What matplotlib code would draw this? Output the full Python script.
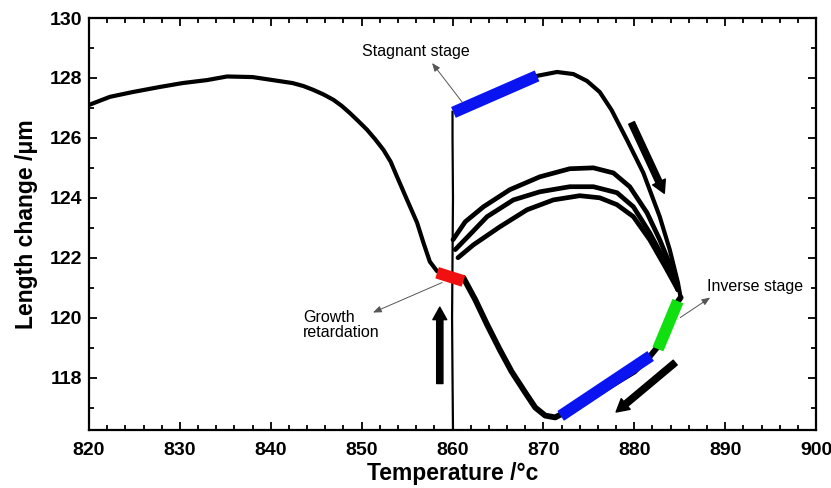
import matplotlib
matplotlib.use("Agg")
import matplotlib.pyplot as plt
from matplotlib.ticker import MultipleLocator

plt.rcParams['font.family'] = ['Liberation Sans', 'DejaVu Sans']

# --- data (Temperature /°C, Length change /µm) ---
heat_T = [820.0, 822.3, 824.8, 827.8, 830.3, 833.0, 835.2, 838.0, 840.2, 842.4,
          843.6, 844.7, 845.8, 846.9, 847.8, 848.7, 849.6, 850.6, 851.5, 852.4,
          853.2, 853.9, 855.0, 856.1, 856.8, 857.5, 858.3]
heat_L = [127.1, 127.37, 127.53, 127.7, 127.83, 127.93, 128.05, 128.03, 127.93, 127.83,
          127.73, 127.6, 127.45, 127.27, 127.07, 126.83, 126.57, 126.27, 125.95, 125.6,
          125.2, 124.7, 123.93, 123.17, 122.5, 121.87, 121.55]

vert_T = [860.05, 860.0, 859.95, 860.0, 860.05, 860.0, 860.0]
vert_L = [116.27, 118.0, 120.0, 122.0, 124.0, 126.0, 126.87]

# cooling branch: down the left side, through the minimum, up to the inverse stage
loop_T = [861.2, 862.5, 863.8, 865.2, 866.5, 868.0, 869.1, 870.2, 871.3,
          874.0, 877.0, 880.0, 881.7, 882.5, 883.6, 884.7, 885.1]
loop_L = [121.33, 120.6, 119.77, 118.93, 118.2, 117.5, 117.0, 116.73, 116.67,
          117.1, 117.65, 118.2, 118.7, 119.0, 119.7, 120.5, 120.67]

# upper branch after the stagnant stage
outer_T = [869.3, 871.5, 873.3, 874.8, 876.2, 877.5, 879.2, 881.0, 882.8, 883.9, 884.8, 885.1]
outer_L = [128.07, 128.2, 128.13, 127.9, 127.53, 126.93, 125.93, 124.83, 123.37, 122.27, 121.17, 120.67]

arch1_T = [860.05, 861.4, 863.4, 866.3, 869.6, 872.9, 875.5, 877.7, 879.5, 881.4, 882.8, 884.3, 884.8]
arch1_L = [122.6, 123.2, 123.7, 124.27, 124.7, 124.97, 125.0, 124.83, 124.37, 123.5, 122.6, 121.5, 120.93]
arch2_T = [860.3, 861.9, 863.8, 866.7, 869.6, 872.9, 875.5, 878.1, 879.9, 881.7, 883.4, 884.8]
arch2_L = [122.27, 122.77, 123.37, 123.93, 124.2, 124.37, 124.37, 124.17, 123.7, 122.83, 121.87, 120.93]
arch3_T = [860.6, 862.3, 865.2, 868.2, 871.1, 874.0, 876.2, 878.1, 879.9, 881.7, 883.4, 884.8]
arch3_L = [122.0, 122.43, 123.03, 123.6, 123.93, 124.07, 124.0, 123.77, 123.37, 122.6, 121.7, 120.93]

# highlighted stages
stagnant_T, stagnant_L = [860.1, 869.3], [126.85, 128.07]
retard_T, retard_L = [858.3, 861.2], [121.5, 121.22]
inverse_T, inverse_L = [884.8, 882.6], [120.55, 118.95]
lower_T, lower_L = [881.8, 871.9], [118.72, 116.72]

fig = plt.figure(figsize=(8.31, 4.88), dpi=100)
ax = fig.add_axes([0.1071, 0.1189, 0.8749, 0.8441])

# thin vertical jump at 860 °C
ax.plot(vert_T, vert_L, color='black', lw=1.6)
for T, L, w in [(heat_T, heat_L, 3.0), (loop_T, loop_L, 4.2), (outer_T, outer_L, 3.0),
                (arch1_T, arch1_L, 3.4), (arch2_T, arch2_L, 3.4), (arch3_T, arch3_L, 3.4)]:
    ax.plot(T, L, color='black', lw=w, solid_capstyle='round', solid_joinstyle='round')

ax.plot(stagnant_T, stagnant_L, color='#0a14f0', lw=8.5, solid_capstyle='butt')
ax.plot(lower_T, lower_L, color='#0a14f0', lw=8.5, solid_capstyle='butt')
ax.plot(retard_T, retard_L, color='#f01010', lw=8.5, solid_capstyle='butt')
ax.plot(inverse_T, inverse_L, color='#10e010', lw=8.5, solid_capstyle='butt')

# thick direction arrows
big = dict(arrowstyle='simple,tail_width=0.45,head_width=1.0,head_length=0.9',
           color='black', mutation_scale=10, shrinkA=0, shrinkB=0)
ax.annotate('', xy=(858.6, 120.35), xytext=(858.6, 117.8), arrowprops=big)
ax.annotate('', xy=(883.3, 124.15), xytext=(879.7, 126.5), arrowprops=big)
ax.annotate('', xy=(878.0, 116.85), xytext=(884.5, 118.5), arrowprops=big)

# labels with thin pointers
thin = dict(arrowstyle='-|>,head_length=0.5,head_width=0.2', color='#555555', lw=0.7,
            shrinkA=0, shrinkB=0)
ax.text(850.0, 128.87, 'Stagnant stage', fontsize=11.5, va='center', ha='left')
ax.annotate('', xy=(857.75, 128.5), xytext=(861.05, 127.2), arrowprops=thin)
ax.text(843.55, 119.75, 'Growth\nretardation', fontsize=11.5, va='center', ha='left',
        linespacing=1.05)
ax.annotate('', xy=(851.25, 120.17), xytext=(858.85, 121.17), arrowprops=thin)
ax.text(888.0, 121.03, 'Inverse stage', fontsize=11.5, va='center', ha='left')
ax.annotate('', xy=(888.35, 120.67), xytext=(885.05, 120.0), arrowprops=thin)

ax.set_xlim(820, 900)
ax.set_ylim(116.25, 130)
ax.xaxis.set_major_locator(MultipleLocator(10))
ax.xaxis.set_minor_locator(MultipleLocator(2))
ax.yaxis.set_minor_locator(MultipleLocator(1))
ax.set_yticks([118, 120, 122, 124, 126, 128, 130])
ax.tick_params(which='both', direction='in', top=True, right=True, width=1.3)
ax.tick_params(which='major', length=6)
ax.tick_params(which='minor', length=3.5)
ax.tick_params(axis='x', which='major', pad=9)
ax.tick_params(axis='y', which='major', pad=5)
for lab in ax.get_xticklabels() + ax.get_yticklabels():
    lab.set_fontsize(14)
    lab.set_fontweight('bold')
for sp in ax.spines.values():
    sp.set_linewidth(1.6)

ax.set_xlabel('Temperature /°c', fontsize=16.5, fontweight='bold', labelpad=2)
ax.set_ylabel('Length change /μm', fontsize=16.5, fontweight='bold', labelpad=8)

fig.savefig('out.png', dpi=100)
